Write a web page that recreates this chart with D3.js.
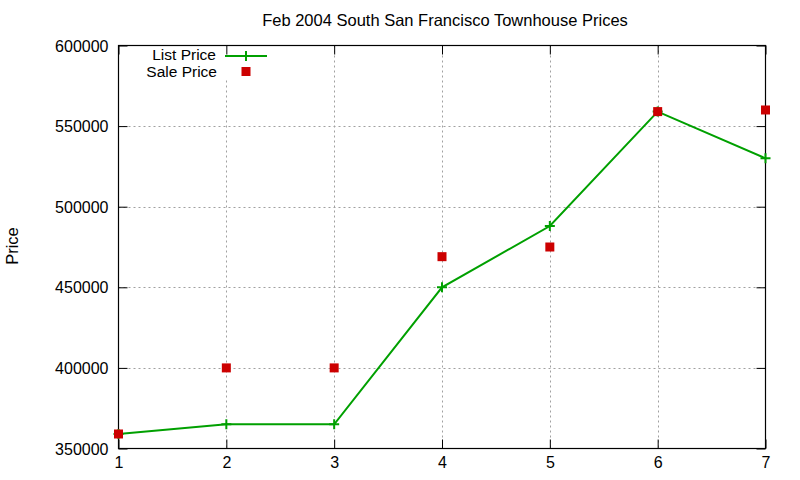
<!DOCTYPE html>
<html>
<head>
<meta charset="utf-8">
<script src="https://cdn.jsdelivr.net/npm/d3@7"></script>
<style>
  body { margin: 0; background: #fff; }
  text { font-family: "Liberation Sans", Arial, sans-serif; fill: #000; }
</style>
</head>
<body>
<svg id="chart" width="800" height="480"></svg>
<script>
// data
var xs = [1, 2, 3, 4, 5, 6, 7];
var list_price = [359000, 365000, 365000, 450000, 488000, 559000, 530000];
var sale_price = [359000, 400000, 400000, 469000, 475000, 559000, 560000];
var y_ticks = [350000, 400000, 450000, 500000, 550000, 600000];

var margin = {left: 118.5, right: 765.5, top: 45.5, bottom: 448.5};
var green = "#00a000", red = "#cc0000";

var svg = d3.select("#chart");

var x = d3.scaleLinear().domain([1, 7]).range([margin.left, margin.right]);
var y = d3.scaleLinear().domain([350000, 600000]).range([margin.bottom, margin.top]);

// grid
var grid = svg.append("g").attr("stroke", "#a0a0a0").attr("stroke-dasharray", "2,3").attr("stroke-width", 1);
grid.selectAll(".gx").data(xs.slice(1, -1)).enter().append("line")
	.attr("x1", function (d) { return Math.round(x(d)) + 0.5; })
	.attr("x2", function (d) { return Math.round(x(d)) + 0.5; })
	.attr("y1", margin.top).attr("y2", margin.bottom);
grid.selectAll(".gy").data(y_ticks.slice(1, -1)).enter().append("line")
	.attr("y1", function (d) { return Math.round(y(d)) + 0.5; })
	.attr("y2", function (d) { return Math.round(y(d)) + 0.5; })
	.attr("x1", margin.left).attr("x2", margin.right);
// legend area covers grid in gnuplot
svg.append("rect").attr("x", 140).attr("y", 46).attr("width", 135).attr("height", 34).attr("fill", "#fff");

// axes with mirrored ticks
function fmt(d) { return String(d); }
var axL = svg.append("g").attr("transform", "translate(" + margin.left + ",0)")
	.call(d3.axisLeft(y).tickValues(y_ticks).tickFormat(fmt).tickSizeInner(-9).tickSizeOuter(0).tickPadding(10));
var axR = svg.append("g").attr("transform", "translate(" + margin.right + ",0)")
	.call(d3.axisRight(y).tickValues(y_ticks).tickFormat("").tickSizeInner(-9).tickSizeOuter(0));
var axB = svg.append("g").attr("transform", "translate(0," + margin.bottom + ")")
	.call(d3.axisBottom(x).tickValues(xs).tickFormat(d3.format("d")).tickSizeInner(-9).tickSizeOuter(0).tickPadding(6));
var axT = svg.append("g").attr("transform", "translate(0," + margin.top + ")")
	.call(d3.axisTop(x).tickValues(xs).tickFormat("").tickSizeInner(-9).tickSizeOuter(0));
[axL, axR, axB, axT].forEach(function (a) {
	a.selectAll(".domain").remove();
	a.selectAll("line").attr("stroke", "#000");
	a.selectAll("text").style("font-size", "16px").attr("fill", "#000")
		.style("font-family", '"Liberation Sans", Arial, sans-serif');
});
axL.selectAll("text").attr("dy", "0.35em");
axB.selectAll("text").attr("dy", "0.85em");

// frame
svg.append("rect").attr("x", margin.left).attr("y", margin.top)
	.attr("width", margin.right - margin.left).attr("height", margin.bottom - margin.top)
	.attr("fill", "none").attr("stroke", "#000").attr("stroke-width", 1.2);

// list price line
var line = d3.line().x(function (d, i) { return x(xs[i]); }).y(function (d) { return y(d); });
svg.append("path").datum(list_price).attr("d", line)
	.attr("fill", "none").attr("stroke", green).attr("stroke-width", 2);

function plus(g, cx, cy) {
	g.append("path").attr("d", "M" + (cx - 5) + "," + cy + "H" + (cx + 5) + "M" + cx + "," + (cy - 5) + "V" + (cy + 5))
		.attr("stroke", green).attr("stroke-width", 2);
}
var pts = svg.append("g");
list_price.forEach(function (d, i) { plus(pts, x(xs[i]), y(d)); });

// sale price squares
svg.append("g").selectAll("rect").data(sale_price).enter().append("rect")
	.attr("x", function (d, i) { return x(xs[i]) - 4.5; })
	.attr("y", function (d) { return y(d) - 4.5; })
	.attr("width", 9).attr("height", 9).attr("fill", red);

// legend
var leg = svg.append("g");
leg.append("text").attr("x", 216).attr("y", 55).attr("dy", "0.35em").attr("text-anchor", "end")
	.style("font-size", "15.5px").text("List Price");
leg.append("line").attr("x1", 225).attr("x2", 267).attr("y1", 56).attr("y2", 56)
	.attr("stroke", green).attr("stroke-width", 2);
plus(leg, 246, 56);
leg.append("text").attr("x", 217).attr("y", 72).attr("dy", "0.35em").attr("text-anchor", "end")
	.style("font-size", "15.5px").text("Sale Price");
leg.append("rect").attr("x", 241.5).attr("y", 67).attr("width", 9).attr("height", 9).attr("fill", red);

// title and y label
svg.append("text").attr("x", 445).attr("y", 20).attr("dy", "0.35em").attr("text-anchor", "middle")
	.style("font-size", "16.5px").text("Feb 2004 South San Francisco Townhouse Prices");
svg.append("text").attr("transform", "translate(12,246) rotate(-90)").attr("dy", "0.35em")
	.attr("text-anchor", "middle").style("font-size", "16.5px").text("Price");
</script>
</body>
</html>
